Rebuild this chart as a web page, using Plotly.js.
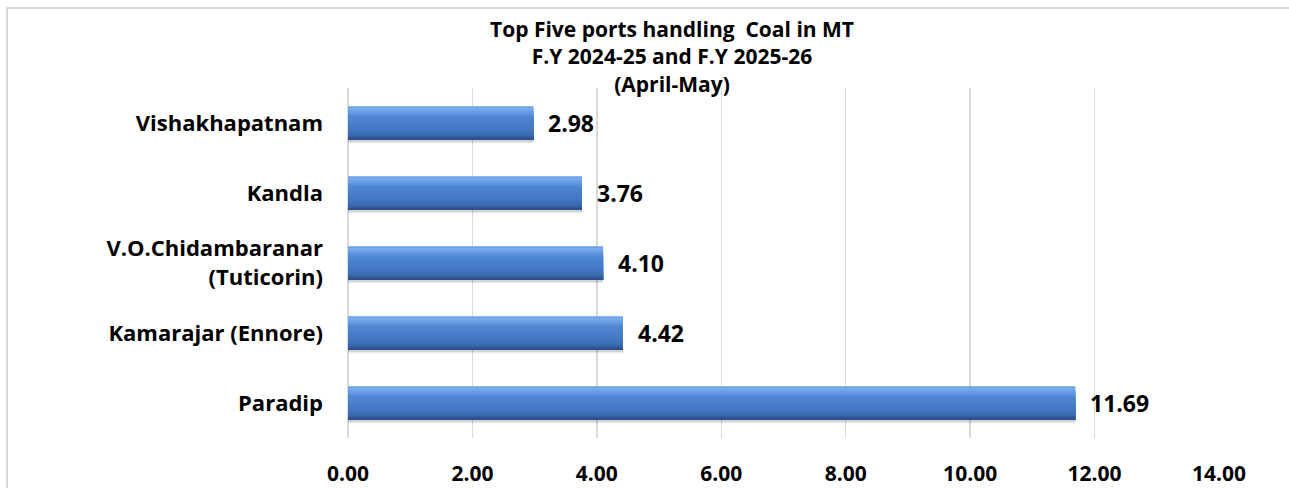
<!DOCTYPE html>
<html>
<head>
<meta charset="utf-8">
<script src="https://cdn.plot.ly/plotly-3.0.1.min.js"></script>
<style>
html,body{margin:0;padding:0;background:#fff;}
#wrap{position:relative;width:1289px;height:488px;overflow:hidden;}
#chart{position:absolute;left:0;top:0;width:1289px;height:488px;}
#frame{position:absolute;left:6px;top:7px;width:1300px;height:500px;border:2px solid #d9d9d9;pointer-events:none;}
</style>
</head>
<body>
<div id="wrap"><div id="chart"></div><div id="frame"></div></div>
<script>
// Data (bottom to top)
const ports = ['Paradip', 'Kamarajar (Ennore)', 'V.O.Chidambaranar<br>(Tuticorin)', 'Kandla', 'Vishakhapatnam'];
const coalMT = [11.69, 4.42, 4.10, 3.76, 2.98];
const xTicks = [0, 2, 4, 6, 8, 10, 12, 14];
const xTickLabels = ['0.00', '2.00', '4.00', '6.00', '8.00', '10.00', '12.00', '14.00'];
const titleLines = ['Top Five ports handling  Coal in MT', 'F.Y 2024-25 and F.Y 2025-26', '(April-May)'];

const FONT = '"Open Sans", sans-serif';

// --- styling helpers (gradient bar look) ---
const BAR_W = 0.48;
const stops = [
  [0.00, [90, 143, 216]],
  [0.05, [124, 176, 240]],
  [0.13, [110, 163, 232]],
  [0.32, [78, 134, 210]],
  [0.70, [66, 119, 194]],
  [0.88, [56, 104, 171]],
  [0.95, [45, 82, 144]],
  [1.00, [42, 76, 130]]
];
function colorAt(f) {
  for (let k = 1; k < stops.length; k++) {
    if (f <= stops[k][0]) {
      const a = stops[k - 1], b = stops[k];
      const t = (f - a[0]) / (b[0] - a[0]);
      const c = a[1].map((v, j) => Math.round(v + (b[1][j] - v) * t));
      return 'rgb(' + c.join(',') + ')';
    }
  }
  return 'rgb(' + stops[stops.length - 1][1].join(',') + ')';
}
function band(width, offset, color) {
  return {
    type: 'bar', orientation: 'h',
    x: coalMT, y: ports,
    width: ports.map(() => width),
    offset: ports.map(() => offset),
    marker: {color: color, line: {width: 0}},
    hoverinfo: 'skip', showlegend: false
  };
}

const traces = [];
// soft shadow under bars
traces.push(band(0.06, -BAR_W / 2 - 0.05, 'rgba(0,0,0,0.08)'));
traces.push(band(0.04, -BAR_W / 2 - 0.03, 'rgba(0,0,0,0.10)'));
// nested bands: each runs from its top edge down to the bar bottom
const N = 20;
const h = BAR_W / N;
for (let i = 0; i < N; i++) {
  const top = BAR_W / 2 - i * h;
  traces.push(band(top + BAR_W / 2, -BAR_W / 2, colorAt((i + 0.5) / N)));
}

const annotations = ports.map((p, i) => ({
  x: coalMT[i], y: p, xref: 'x', yref: 'y',
  text: '<b>' + coalMT[i].toFixed(2) + '</b>',
  showarrow: false, xanchor: 'left', yanchor: 'middle',
  xshift: 13, yshift: 0,
  font: {family: FONT, size: 23, color: '#000'}
}));
annotations.push({
  x: 0.372, y: 1.0886, xref: 'paper', yref: 'paper',
  text: '<b>' + titleLines.join('<br>') + '</b>', showarrow: false,
  xanchor: 'center', yanchor: 'middle', align: 'center',
  font: {family: FONT, size: 21, color: '#000'}
});

const layout = {
  width: 1289, height: 488,
  margin: {l: 348, r: 70, t: 88, b: 50, pad: 0},
  paper_bgcolor: '#ffffff', plot_bgcolor: '#ffffff',
  barmode: 'overlay',
  xaxis: {
    range: [0, 14], tickvals: xTicks, ticktext: xTickLabels,
    showgrid: true, gridcolor: '#d9d9d9', gridwidth: 1.5,
    zeroline: true, zerolinecolor: '#d9d9d9', zerolinewidth: 1.5,
    showline: false, ticks: '',
    ticklabelstandoff: 21,
    tickfont: {family: FONT, size: 21, color: '#000', weight: 'bold'},
    fixedrange: true
  },
  yaxis: {
    type: 'category', range: [-0.5, 4.5],
    showgrid: false, zeroline: false, showline: false, ticks: '',
    ticklabelstandoff: 24,
    tickfont: {family: FONT, size: 22, color: '#000', weight: 'bold'},
    fixedrange: true
  },
  annotations: annotations,
  showlegend: false
};

Plotly.newPlot('chart', traces, layout, {displayModeBar: false, staticPlot: true});
</script>
</body>
</html>
